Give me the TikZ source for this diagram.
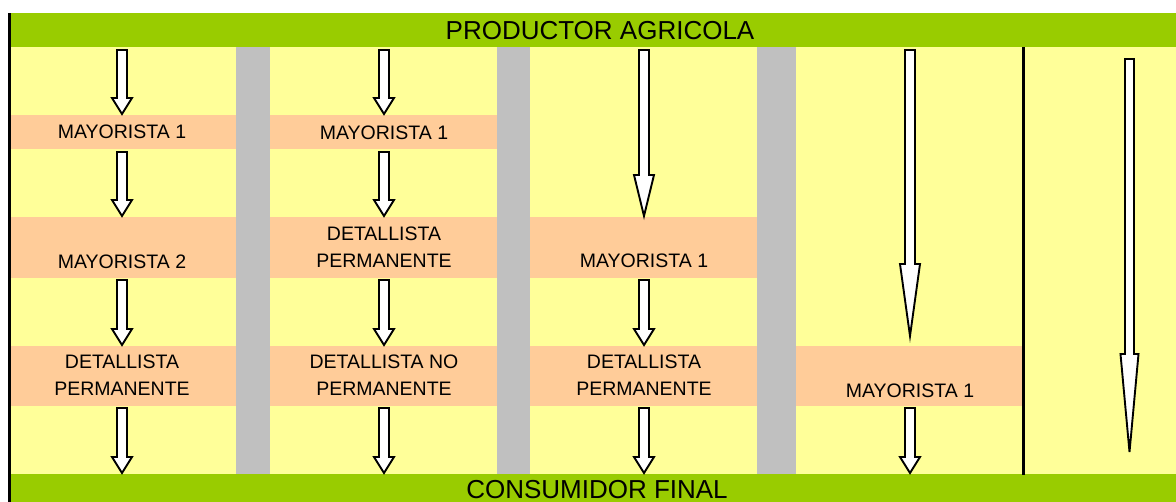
\documentclass[tikz,border=0pt]{standalone}
\usepackage{fontspec}
\setmainfont{Liberation Sans}
\definecolor{agreen}{HTML}{99CC00}
\definecolor{ayellow}{HTML}{FFFF99}
\definecolor{aorange}{HTML}{FFCC99}
\definecolor{agray}{HTML}{C0C0C0}
\tikzset{
  lbl/.style={inner sep=0pt, align=center, font=\fontsize{19.5}{27}\selectfont, text=black},
  ttl/.style={inner sep=0pt, font=\fontsize{26}{30}\selectfont, text=black},
  barrowstyle/.style={draw=black, fill=white, line width=1.9pt, line join=miter},
}
% x, ytop, yhead, ytip, head half width, shaft half width
\newcommand\barrow[6]{\draw[barrowstyle] (#1-#6,#2) -- (#1+#6,#2) -- (#1+#6,#3) -- (#1+#5,#3) -- (#1,#4) -- (#1-#5,#3) -- (#1-#6,#3) -- cycle;}
\begin{document}
\begin{tikzpicture}[x=1pt,y=-1pt]
\clip (0,0) rectangle (1176,502);
\fill[white] (0,0) rectangle (1176,502);
% background bands
\fill[ayellow] (11,47) rectangle (1176,474);
\fill[aorange] (11,115) rectangle (497,149);
\fill[aorange] (11,217) rectangle (757,278);
\fill[aorange] (11,346) rectangle (1022,406);
\fill[agray] (236,47) rectangle (270,474);
\fill[agray] (497,47) rectangle (530,474);
\fill[agray] (757,47) rectangle (796,474);
\fill[agreen] (11,13) rectangle (1176,47);
\fill[agreen] (11,474) rectangle (1176,510);
\fill[black] (8,13) rectangle (11,502);
\fill[black] (1022,47) rectangle (1024.5,475);
% titles
\node[ttl] (prod) at (600,30.5) {PRODUCTOR AGRICOLA};
\node[ttl] (cons) at (597,490) {CONSUMIDOR FINAL};
% labels
\node[lbl] (m11) at (122,132) {MAYORISTA 1};
\node[lbl] (m12) at (122,262) {MAYORISTA 2};
\node[lbl] (d13) at (122,375.5) {DETALLISTA\\PERMANENTE};
\node[lbl] (m21) at (384,133) {MAYORISTA 1};
\node[lbl] (d22) at (384,247.5) {DETALLISTA\\PERMANENTE};
\node[lbl] (d23) at (384,375.5) {DETALLISTA NO\\PERMANENTE};
\node[lbl] (m32) at (644,261) {MAYORISTA 1};
\node[lbl] (d33) at (644,375.5) {DETALLISTA\\PERMANENTE};
\node[lbl] (m43) at (910,391) {MAYORISTA 1};
% arrows column 1
\barrow{122}{50}{98}{114}{10}{5}
\barrow{122}{152}{200}{216}{10}{5}
\barrow{122}{280}{329}{345}{10}{5}
\barrow{122}{408}{457}{473}{10}{5}
% arrows column 2
\barrow{384}{50}{98}{114}{10}{5}
\barrow{384}{152}{200}{216}{10}{5}
\barrow{384}{280}{329}{345}{10}{5}
\barrow{384}{408}{457}{473}{10}{5}
% arrows column 3
\barrow{644}{50}{175}{216}{10}{5}
\barrow{644}{280}{329}{345}{10}{5}
\barrow{644}{408}{457}{473}{10}{5}
% arrows column 4
\barrow{910}{50}{264}{336}{10}{5}
\barrow{910}{408}{457}{473}{10}{5}
% arrow column 5
\barrow{1129.5}{59}{354}{452}{9}{4.5}
\end{tikzpicture}
\end{document}
